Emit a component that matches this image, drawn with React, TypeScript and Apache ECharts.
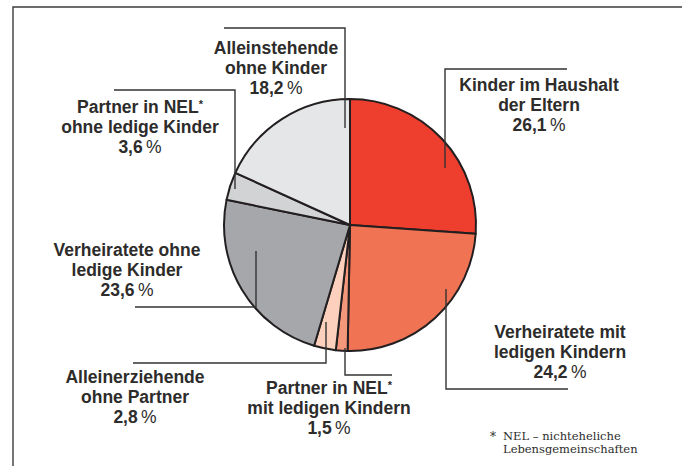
import React, { useEffect, useRef } from "react";
import * as echarts from "echarts";

const categories = [
  "Kinder im Haushalt der Eltern",
  "Verheiratete mit ledigen Kindern",
  "Partner in NEL* mit ledigen Kindern",
  "Alleinerziehende ohne Partner",
  "Verheiratete ohne ledige Kinder",
  "Partner in NEL* ohne ledige Kinder",
  "Alleinstehende ohne Kinder",
];
const values = [26.1, 24.2, 1.5, 2.8, 23.6, 3.6, 18.2];
const labelLines = [
  ["Kinder im Haushalt", "der Eltern"],
  ["Verheiratete mit", "ledigen Kindern"],
  ["Partner in NEL*", "mit ledigen Kindern"],
  ["Alleinerziehende", "ohne Partner"],
  ["Verheiratete ohne", "ledige Kinder"],
  ["Partner in NEL*", "ohne ledige Kinder"],
  ["Alleinstehende", "ohne Kinder"],
];
const colors = ["#ee3e2d", "#f07354", "#f5977a", "#fcd0bd", "#a6a7aa", "#d2d3d5", "#e5e6e8"];
const footnote = ["NEL \u2013 nichteheliche", "Lebensgemeinschaften"];

// layout of annotation (label block centre and leader line)
const labelPos = [
  [539, 105],
  [560, 352],
  [329, 408],
  [135, 397],
  [127, 270],
  [140, 127],
  [276, 68],
];
const leaders = [
  [[567, 69], [445, 69], [445, 168]],
  [[446, 289], [446, 389], [568, 389]],
  [[345, 348], [345, 375], [392, 375]],
  [[326, 322], [326, 363], [133, 363]],
  [[256, 251], [256, 307], [135, 307]],
  [[235, 189], [235, 90], [114, 90]],
  [[345, 128], [345, 28], [224, 28]],
];

const fmt = (v: number) => v.toFixed(1).replace(".", ",");

export default function App() {
  const ref = useRef<HTMLDivElement>(null);
  useEffect(() => {
    if (!ref.current) return;
    const chart = echarts.init(ref.current, null, { renderer: "svg" });
    const textColor = "#2d2c2b";
    const FS = 17.5;
    const LH = 19.7;
    const FONT = "Liberation Sans";
    const rich = {
      b: { fontFamily: FONT, fontWeight: "bold", fontSize: FS, fill: textColor },
      s: { fontFamily: FONT, fontWeight: "bold", fontSize: 11, verticalAlign: "top", fill: textColor },
      p: { fontFamily: FONT, fontWeight: "normal", fontSize: FS, fill: textColor },
    };
    const graphics: any[] = [];
    graphics.push({
      type: "polyline",
      silent: true,
      shape: { points: [[13, 466], [13, 7], [682, 7]] },
      style: { stroke: "#3c3c3c", lineWidth: 1.4, fill: "none" },
    });
    leaders.forEach((pts) => {
      graphics.push({
        type: "polyline",
        silent: true,
        z: 10,
        shape: { points: pts },
        style: { stroke: "#333333", lineWidth: 1.4, fill: "none" },
      });
    });
    categories.forEach((_, i) => {
      const lines = labelLines[i].map((l) =>
        l.includes("*") ? `{b|${l.replace("*", "")}}{s|*}` : `{b|${l}}`
      );
      lines.push(`{b|${fmt(values[i])}} {p|%}`);
      lines.forEach((t, k) => {
        graphics.push({
          type: "text",
          silent: true,
          x: labelPos[i][0],
          y: labelPos[i][1] + (k - 1) * LH,
          style: { text: t, align: "center", verticalAlign: "middle", fill: textColor, rich },
        });
      });
    });
    graphics.push({
      type: "text",
      silent: true,
      x: 490,
      y: 431,
      style: { text: "*", font: "12px 'DejaVu Serif'", fill: textColor },
    });
    footnote.forEach((t, k) => {
      graphics.push({
        type: "text",
        silent: true,
        x: 503,
        y: 436 + k * 13,
        style: {
          text: t,
          font: "11.5px 'DejaVu Serif'",
          verticalAlign: "middle",
          fill: textColor,
        },
      });
    });

    chart.setOption({
      animation: false,
      graphic: graphics,
      series: [
        {
          type: "pie",
          center: [350, 225],
          radius: [0, 126],
          startAngle: 90,
          clockwise: true,
          label: { show: false },
          labelLine: { show: false },
          itemStyle: { borderColor: "#231f20", borderWidth: 2 },
          emphasis: { disabled: true },
          data: categories.map((name, i) => ({
            name,
            value: values[i],
            itemStyle: { color: colors[i] },
          })),
        },
      ],
    });
    return () => chart.dispose();
  }, []);
  return (
    <div
      ref={ref}
      style={{ position: "absolute", left: 0, top: 0, width: 682, height: 466, background: "#fff" }}
    />
  );
}
